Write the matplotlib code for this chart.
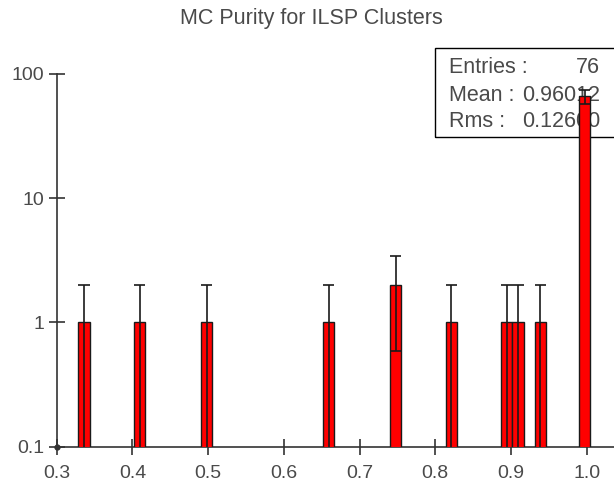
import numpy as np
import matplotlib
matplotlib.use('Agg')
import matplotlib.pyplot as plt
from matplotlib.patches import Rectangle

# bin centres (purity) and entries
purity = [0.336, 0.4095, 0.498, 0.6595, 0.748, 0.821, 0.8946, 0.9093, 0.9387, 0.9975]
entries = [1, 1, 1, 1, 2, 1, 1, 1, 1, 66]
bin_width = 0.0147

stat_names = ['Entries :', 'Mean :', 'Rms :']
stat_values = ['76', '0.96012', '0.12600']

x_ticks = [0.3, 0.4, 0.5, 0.6, 0.7, 0.8, 0.9, 1.0]
x_labels = ['0.3', '0.4', '0.5', '0.6', '0.7', '0.8', '0.9', '1.0']
y_ticks = [0.1, 1, 10, 100]
y_labels = ['0.1', '1', '10', '100']


def main():
    plt.rcParams['font.family'] = ['Liberation Sans', 'DejaVu Sans']
    ink = '#333333'
    txt = '#4a4a4a'

    fig = plt.figure(figsize=(6.14, 4.91), dpi=100)
    ax = fig.add_axes([0.0925, 0.0902, 0.9075, 0.7591])
    ax.set_yscale('log')
    ax.set_xlim(0.3, 1.0361)
    ax.set_ylim(0.1, 100)

    x = np.array(purity)
    n = np.array(entries, dtype=float)
    err = np.sqrt(n)
    w = bin_width

    ax.bar(x, n, width=w, color='#ff0000', edgecolor='#1a1a1a', linewidth=1.0, zorder=3)

    # error bars: line through the bar, caps at both ends (lower cap only if > 0)
    lo = n - err
    lo_line = np.where(lo > 0, lo, 0.1)
    ax.vlines(x, lo_line, n + err, color='#1a1a1a', lw=1.2, zorder=4)
    ax.hlines(n + err, x - w / 2, x + w / 2, color='#1a1a1a', lw=1.2, zorder=4)
    pos = lo > 0
    ax.hlines(lo[pos], x[pos] - w / 2, x[pos] + w / 2, color='#1a1a1a', lw=1.2, zorder=4)

    ax.set_xticks(x_ticks)
    ax.set_xticklabels(x_labels)
    ax.set_yticks(y_ticks)
    ax.set_yticklabels(y_labels)
    ax.minorticks_off()
    ax.tick_params(direction='inout', length=11.5, width=1.2, color=ink,
                   labelsize=14, labelcolor=txt)
    ax.tick_params(axis='y', pad=3.5)
    ax.tick_params(axis='x', pad=7.5)

    for s in ['top', 'right']:
        ax.spines[s].set_visible(False)
    for s in ['left', 'bottom']:
        ax.spines[s].set_color(ink)
        ax.spines[s].set_linewidth(1.2)

    ax.plot([0.3], [0.1], 'o', ms=3.5, color=ink, clip_on=False, zorder=5)

    # statistics box (drawn under the bars, as in the original)
    ax.add_patch(Rectangle((0.6788, 0.8318), 0.34, 0.2372, transform=ax.transAxes,
                           fill=False, edgecolor='black', lw=1.0, clip_on=False, zorder=1))
    rows = [1.0187, 0.9428, 0.8712]
    for name, val, yy in zip(stat_names, stat_values, rows):
        ax.text(0.7039, yy, name, transform=ax.transAxes, ha='left', va='center',
                fontsize=15.5, color=txt, clip_on=False, zorder=1.5)
        ax.text(0.9752, yy, val, transform=ax.transAxes, ha='right', va='center',
                fontsize=15.5, color=txt, clip_on=False, zorder=1.5)

    fig.text(0.507, 0.963, 'MC Purity for ILSP Clusters', ha='center', va='center',
             fontsize=15.5, color=txt)

    fig.savefig('out.png', dpi=100)


if __name__ == "__main__":
    main()
